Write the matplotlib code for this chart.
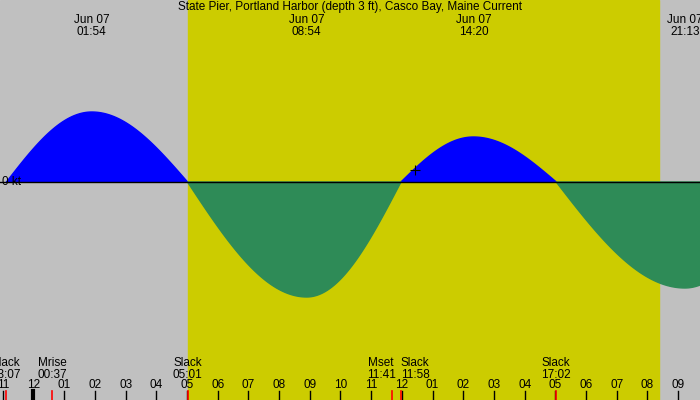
import matplotlib
matplotlib.use("Agg")
import matplotlib.pyplot as plt
import numpy as np

plt.rcParams["font.family"] = ["Liberation Sans", "DejaVu Sans"]

# events in hours after midnight Jun 07, current in knots
ev_t = [-0.88, 1.9, 5.02, 8.9, 11.97, 14.33, 17.03, 21.22, 24.5]
ev_v = [0.0, 0.70, 0.0, -1.15, 0.0, 0.45, 0.0, -1.06, 0.0]

top_labels = [(1.9, "Jun 07\n01:54"), (8.9, "Jun 07\n08:54"),
              (14.33, "Jun 07\n14:20"), (21.22, "Jun 07\n21:13")]
# (event time, label x, text)
bottom_events = [(-0.88, -0.9, "Slack\n23:07"), (0.62, 0.62, "Mrise\n00:37"),
                 (5.02, 5.02, "Slack\n05:01"), (11.68, 11.32, "Mset\n11:41"),
                 (11.97, 12.43, "Slack\n11:58"), (17.03, 17.03, "Slack\n17:02")]
hour_labels = ["11", "12", "01", "02", "03", "04", "05", "06", "07", "08", "09", "10",
               "11", "12", "01", "02", "03", "04", "05", "06", "07", "08", "09"]
sunrise, sunset = 5.02, 20.38

# curve through the events: quarter-sine from slack to extremum and back
t = []
v = []
for i in range(len(ev_t) - 1):
    tt = np.linspace(ev_t[i], ev_t[i + 1], 60)
    a, b = ev_v[i], ev_v[i + 1]
    frac = (tt - ev_t[i]) / (ev_t[i + 1] - ev_t[i])
    if a == 0:
        vv = b * np.sin(np.pi / 2 * frac)
    else:
        vv = a * np.cos(np.pi / 2 * frac)
    t.append(tt)
    v.append(vv)
t = np.concatenate(t)
v = np.concatenate(v)

x0 = -1.09
x1 = x0 + 700 / 30.7
fig = plt.figure(figsize=(7, 4), dpi=100)
ax = fig.add_axes([0, 0, 1, 1])
ax.set_xlim(x0, x1)
ax.set_ylim(-2.18, 1.82)
ax.axis("off")
ax.axvspan(x0, x1, color="#c0c0c0", zorder=0)
ax.axvspan(sunrise, sunset, color="#cccc00", zorder=0)
ax.fill_between(t, v, 0, where=v >= 0, color="#0000ff", interpolate=True, zorder=1)
ax.fill_between(t, v, 0, where=v <= 0, color="#2e8b57", interpolate=True, zorder=1)
ax.axhline(0, color="black", lw=1, zorder=2)
ax.text(-1.03, 0.0, "0 kt", fontsize=8.5, va="center", ha="left", zorder=3)
ax.plot([12.43], [0.12], marker="+", color="black", ms=7, mew=0.8, zorder=3)

fs = 8.5
ax.text(0.5, 0.997, "State Pier, Portland Harbor (depth 3 ft), Casco Bay, Maine Current",
        transform=ax.transAxes, ha="center", va="top", fontsize=fs)
for x, s in top_labels:
    ax.text(x, 1.56, s, ha="center", va="center", fontsize=fs, linespacing=1.0)
for et, x, s in bottom_events:
    ax.text(x, -1.87, s, ha="center", va="center", fontsize=fs, linespacing=1.05)
for i, s in enumerate(hour_labels):
    h = i - 1
    ax.text(h, -2.03, s, ha="center", va="center", fontsize=fs)
    ax.plot([h, h], [-2.09, -2.18], color="black", lw=1)
ax.plot([0, 0], [-2.09, -2.18], color="black", lw=3)
for et, x, s in bottom_events:
    ax.plot([et, et], [-2.09, -2.18], color="red", lw=1.2)

fig.savefig("out.png", dpi=100)
